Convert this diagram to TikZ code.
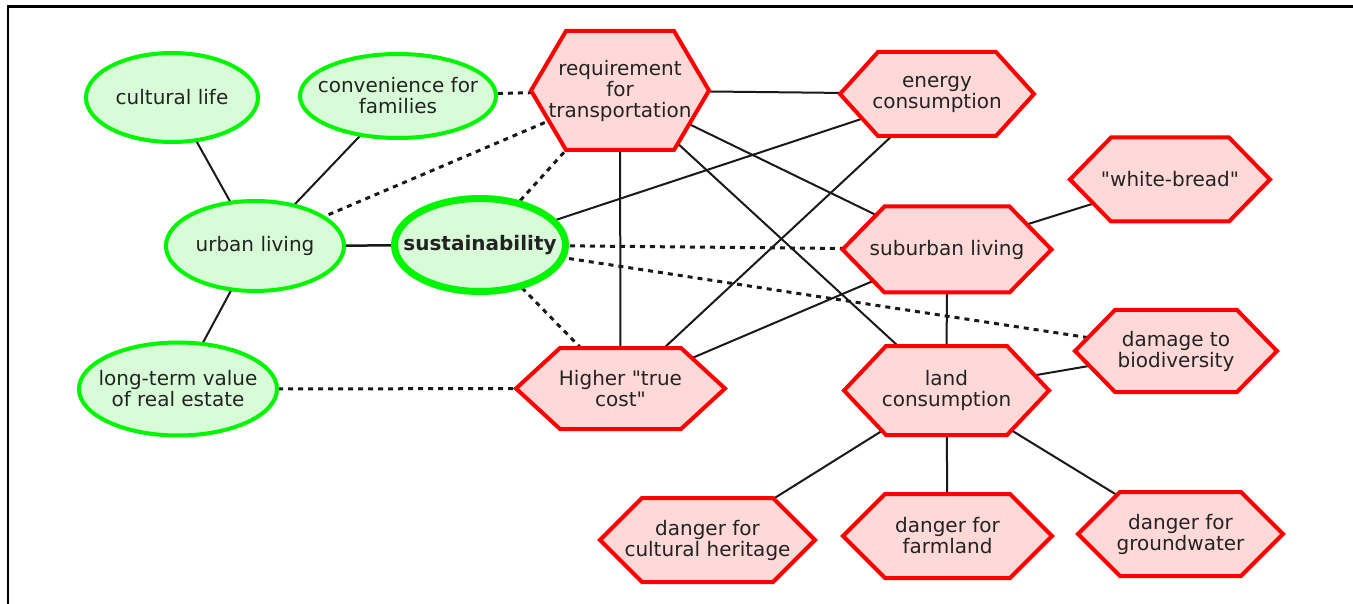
\documentclass[tikz,border=0pt]{standalone}
\usepackage{fontspec}
\setmainfont{DejaVu Sans}[Ligatures=TeXOff]
\usetikzlibrary{shapes.geometric}
\pgfdeclarelayer{bg}
\pgfsetlayers{bg,main}
\definecolor{gstroke}{RGB}{0,245,0}
\definecolor{gfill}{RGB}{216,252,216}
\definecolor{rstroke}{RGB}{255,0,0}
\definecolor{rfill}{RGB}{255,216,216}
\definecolor{txt}{RGB}{35,35,35}
\definecolor{lk}{RGB}{25,25,25}
\newcommand\diafont{\fontsize{20}{21}\selectfont}
\tikzset{
  ell/.style={ellipse, draw=gstroke, fill=gfill, line width=4pt, inner sep=-20pt,
    text=txt, align=center, font=\diafont},
  hexlabel/.style={inner sep=0pt, text=txt, align=center, font=\diafont},
  hexshape/.style={draw=rstroke, fill=rfill, line width=4pt, line join=miter},
  conn/.style={line width=2pt, draw=lk},
  dotc/.style={line width=3pt, draw=lk, dash pattern=on 5pt off 5pt},
  frameline/.style={line width=2.5pt, draw=black},
}
% name, cx, cy, half width, half height, inset, text
\newcommand\hexa[7]{%
  \draw[hexshape] (#2-#4,#3) -- (#2-#4+#6,#3-#5) -- (#2+#4-#6,#3-#5) -- (#2+#4,#3)
    -- (#2+#4-#6,#3+#5) -- (#2-#4+#6,#3+#5) -- cycle;
  \node[hexlabel] (#1) at (#2,#3) {#7};
}
\begin{document}
\begin{tikzpicture}[x=1pt,y=-1pt]
\useasboundingbox (0,0) rectangle (1353,604);
\draw[frameline] (7.8,604) -- (7.8,6.5) -- (1353,6.5);

% ellipses
\node[ell, minimum width=172pt, minimum height=89pt] (cult) at (172,97.5) {cultural life};
\node[ell, minimum width=196pt, minimum height=84pt] (conv) at (398,96) {convenience for\\families};
\node[ell, minimum width=178pt, minimum height=90pt] (urban) at (255,246) {urban living};
\node[ell, line width=7pt, minimum width=171pt, minimum height=93pt] (sust) at (480,245) {\textbf{sustainability}};
\node[ell, minimum width=198pt, minimum height=93pt] (ltv) at (178,389) {long-term value\\of real estate};

% hexagons
\hexa{req}{620}{90.5}{89}{59.5}{35}{requirement\\for\\transportation}
\hexa{energy}{937}{94}{97}{42}{38}{energy\\consumption}
\hexa{white}{1170}{179.5}{100}{42}{41}{"white-bread"}
\hexa{sub}{947}{249.5}{104.5}{43}{42}{suburban living}
\hexa{dam}{1176}{351}{101}{41}{40}{damage to\\biodiversity}
\hexa{land}{946.5}{390.5}{102.5}{44.5}{42}{land\\consumption}
\hexa{cost}{620.5}{388.5}{104.5}{40.5}{44}{Higher "true\\cost"}
\hexa{herit}{707.5}{540}{107.5}{42}{42}{danger for\\cultural heritage}
\hexa{farm}{947.5}{536}{104.5}{42}{42}{danger for\\farmland}
\hexa{ground}{1180.5}{534}{102.5}{42}{42}{danger for\\groundwater}

\begin{pgfonlayer}{bg}
\draw[conn] (cult.center) -- (urban.center);
\draw[conn] (conv.center) -- (urban.center);
\draw[conn, line width=2.5pt] (urban.center) -- (sust.center);
\draw[conn] (urban.center) -- (ltv.center);
\draw[conn] (sust.center) -- (energy.center);
\draw[conn] (req.center) -- (energy.center);
\draw[conn] (req.center) -- (cost.center);
\draw[conn] (req.center) -- (sub.center);
\draw[conn] (req.center) -- (land.center);
\draw[conn] (energy.center) -- (cost.center);
\draw[conn] (sub.center) -- (cost.center);
\draw[conn] (sub.center) -- (white.center);
\draw[conn] (sub.center) -- (land.center);
\draw[conn] (land.center) -- (dam.center);
\draw[conn] (land.center) -- (herit.center);
\draw[conn] (land.center) -- (farm.center);
\draw[conn] (land.center) -- (ground.center);
\draw[dotc] (conv.center) -- (req.center);
\draw[dotc] (urban.center) -- (req.center);
\draw[dotc] (sust.center) -- (req.center);
\draw[dotc] (sust.center) -- (sub.center);
\draw[dotc] (sust.center) -- (dam.center);
\draw[dotc] (sust.center) -- (cost.center);
\draw[dotc] (ltv.center) -- (cost.center);
\end{pgfonlayer}
\end{tikzpicture}
\end{document}
